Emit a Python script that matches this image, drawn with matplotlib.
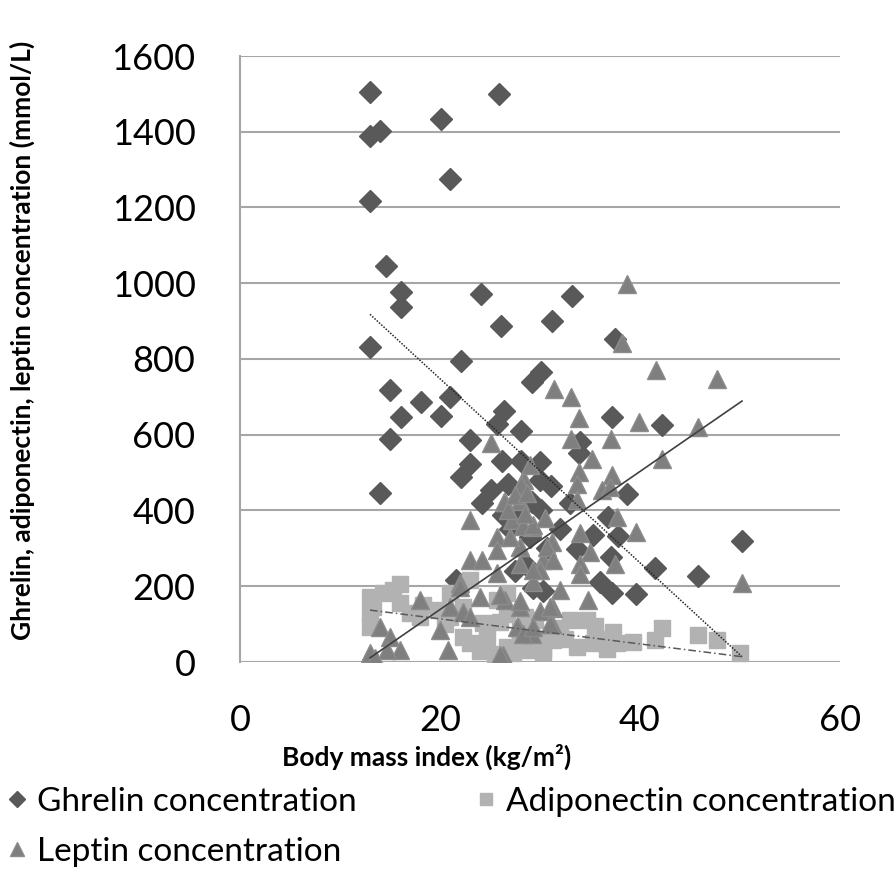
import numpy as np
import matplotlib.pyplot as plt

plt.rcParams['font.family'] = ['Lato', 'DejaVu Sans']

# BMI / concentration pairs
ghrelin_bmi = [13.0, 25.9, 20.1, 13.0, 14.0, 21.0, 13.0, 14.6, 16.1, 16.1,
               24.1, 26.1, 31.2, 33.2, 13.0, 22.1, 30.1, 29.2, 37.5, 15.0,
               18.1, 21.0, 16.1, 20.1, 26.4, 25.7, 28.1, 37.2, 42.2, 15.0,
               23.0, 34.0, 23.0, 26.2, 28.1, 30.0, 33.9, 22.1, 14.0, 25.1,
               24.2, 30.0, 31.1, 38.7, 29.2, 33.0, 30.1, 26.3, 36.8, 35.3,
               37.8, 33.7, 37.1, 41.5, 45.8, 50.2, 36.0, 37.2, 39.6, 29.3,
               30.3, 21.6, 27.5, 28.5, 27.0, 29.0, 30.7, 27.8, 26.8, 32.0]
ghrelin_val = [1505, 1500, 1433, 1390, 1402, 1275, 1216, 1045, 978, 937,
               971, 887, 900, 967, 833, 794, 766, 740, 854, 717,
               686, 700, 646, 649, 664, 628, 609, 648, 627, 589,
               586, 582, 524, 531, 531, 528, 552, 489, 445, 455,
               421, 480, 465, 444, 422, 420, 400, 388, 383, 334,
               332, 298, 276, 248, 226, 319, 212, 181, 180, 195,
               188, 216, 240, 260, 350, 330, 300, 395, 470, 350]

adipo_bmi = [13.0, 13.0, 13.0, 13.3, 14.3, 15.3, 16.0, 16.0, 18.0, 18.3,
             19.8, 21.0, 23.0, 22.3, 21.0, 22.3, 23.0, 24.3, 25.7, 26.7,
             24.7, 26.7, 28.0, 29.0, 30.3, 28.0, 31.3, 26.7, 27.3, 26.0,
             34.7, 33.0, 33.7, 35.3, 31.3, 30.3, 27.3, 37.3, 36.7, 37.7,
             39.3, 41.5, 42.2, 45.8, 47.7, 50.0, 32.0, 29.5, 24.0, 25.5,
             32.5, 36.0, 35.5, 30.0, 28.5, 20.5, 17.0]
adipo_val = [172, 128, 93, 146, 181, 190, 205, 155, 120, 150,
             137, 181, 216, 146, 120, 67, 51, 102, 164, 128,
             67, 40, 51, 32, 27, 84, 58, 181, 23, 106,
             111, 111, 40, 51, 76, 34, 32, 80, 34, 51,
             54, 58, 89, 71, 58, 23, 90, 110, 30, 20,
             60, 60, 95, 60, 120, 100, 130]

leptin_bmi = [38.7, 38.2, 41.6, 47.7, 31.4, 33.1, 33.9, 39.9, 45.8, 42.2,
              33.1, 37.1, 35.2, 33.9, 37.2, 33.7, 36.2, 37.0, 28.3, 26.5,
              28.0, 33.7, 37.7, 39.6, 34.0, 29.2, 31.2, 28.0, 35.0, 37.5,
              34.0, 30.3, 30.0, 34.0, 29.3, 32.0, 34.8, 31.3, 30.0, 28.0,
              26.5, 27.8, 29.2, 31.2, 26.3, 50.2, 25.1, 28.4, 28.1, 26.4,
              23.0, 27.2, 28.3, 29.3, 25.7, 25.7, 28.0, 30.7, 23.0, 24.2,
              28.0, 29.3, 31.3, 25.7, 22.0, 18.0, 24.0, 26.0, 28.0, 31.0,
              21.0, 22.3, 23.0, 14.0, 20.0, 27.7, 28.3, 29.3, 31.0, 15.0,
              13.0, 16.0, 14.7, 20.8, 26.0, 13.5, 22.0, 26.8, 27.5, 29.0,
              28.7, 30.5, 27.0, 28.5]
leptin_val = [999, 843, 771, 748, 721, 699, 643, 634, 620, 537,
              590, 590, 535, 502, 493, 471, 454, 462, 480, 423,
              425, 427, 383, 344, 340, 357, 317, 303, 291, 260,
              260, 269, 243, 233, 210, 190, 164, 142, 135, 146,
              164, 93, 75, 100, 18, 209, 579, 480, 468, 423,
              376, 375, 360, 362, 331, 296, 304, 304, 269, 269,
              260, 243, 269, 234, 208, 164, 172, 177, 160, 146,
              146, 133, 120, 93, 84, 93, 75, 93, 100, 67,
              23, 32, 32, 32, 18, 10, 199, 400, 440, 520,
              445, 380, 330, 390]

# linear trend lines (end points)
trend_bmi = [13.0, 50.2]
ghrelin_trend = [918, 14]
adipo_trend = [137, 14]
leptin_trend = [11, 689]

fig = plt.figure(figsize=(8.96, 8.72), dpi=100)
ax = fig.add_axes([240/896, 1-662/872, 600/896, 606/872])

ax.plot(ghrelin_bmi, ghrelin_val, 'D', color='#595959', markersize=11.5, mec='#595959', label='Ghrelin concentration')
ax.plot(adipo_bmi, adipo_val, 's', color='#b2b2b2', markersize=11, mec='#b2b2b2', label='Adiponectin concentration')
ax.plot(leptin_bmi, leptin_val, '^', color='#7f7f7f', markersize=12.5, mec='#8c8c8c', label='Leptin concentration')

ax.plot(trend_bmi, ghrelin_trend, color='#262626', lw=1.1, ls=(0, (1, 1)))
ax.plot(trend_bmi, adipo_trend, color='#595959', lw=1.1, ls=(0, (5, 2, 1, 2)))
ax.plot(trend_bmi, leptin_trend, color='#404040', lw=1.2)

ax.set_xlim(0, 60)
ax.set_ylim(0, 1600)
ax.set_xticks([0, 20, 40, 60])
ax.set_yticks(np.arange(0, 1601, 200))
ax.grid(axis='y', color='#a6a6a6', lw=1.5)
ax.set_axisbelow(True)
for s in ['top', 'right', 'bottom']:
    ax.spines[s].set_visible(False)
ax.spines['left'].set_color('#a6a6a6')
ax.spines['left'].set_linewidth(1.5)
ax.tick_params(length=0, labelsize=26)
ax.tick_params(axis='y', pad=32)
ax.tick_params(axis='x', pad=30)

fig.text(427/896, 1-757/872, 'Body mass index (kg/m²)', ha='center', va='center',
         fontsize=19, fontweight='bold')
fig.text(22/896, 1-340/872, 'Ghrelin, adiponectin, leptin concentration (mmol/L)',
         ha='center', va='center', rotation=90, fontsize=19, fontweight='bold')

h, l = ax.get_legend_handles_labels()
fig.legend([h[0], h[2], h[1]], [l[0], l[2], l[1]], ncol=2, loc='upper left',
           bbox_to_anchor=(0.0, 1-787/872), frameon=False, fontsize=24,
           handletextpad=0.1, columnspacing=3.4, handlelength=1.0,
           markerscale=0.75, labelspacing=0.6, borderaxespad=0, borderpad=0)

fig.savefig('out.png', dpi=100)
